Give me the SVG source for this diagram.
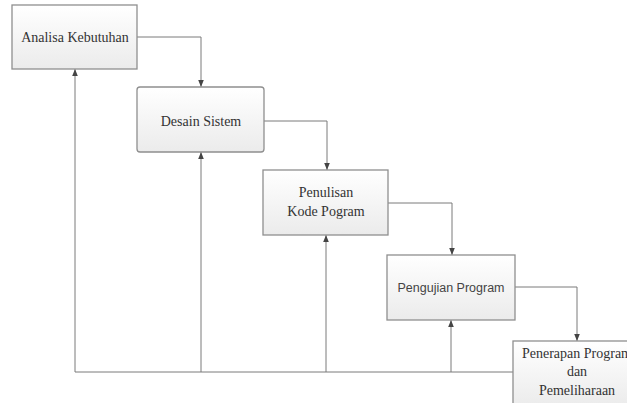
<svg xmlns="http://www.w3.org/2000/svg" width="627" height="403" viewBox="0 0 627 403">
<defs>
<linearGradient id="g" x1="0" y1="0" x2="0" y2="1">
<stop offset="0" stop-color="#ffffff"/>
<stop offset="1" stop-color="#ebebeb"/>
</linearGradient>
<marker id="ah" viewBox="0 0 10 10" refX="10" refY="5" markerWidth="7" markerHeight="7" orient="auto">
<path d="M0,1 L10,5 L0,9 z" fill="#444"/>
</marker>
</defs>
<style>
.box{fill:url(#g);stroke:#8f8f8f;stroke-width:1.3}
.t{font-family:"Liberation Serif","Times New Roman",serif;font-size:14px;fill:#333;text-anchor:middle}
.s{font-family:"Liberation Sans",Arial,sans-serif;font-size:12.5px;fill:#444;text-anchor:middle}
.c{fill:none;stroke:#7a7a7a;stroke-width:1}
</style>
<rect width="627" height="403" fill="#ffffff"/>
<g id="connectors">
<polyline class="c" points="137,37 201,37 201,87" marker-end="url(#ah)"/>
<polyline class="c" points="264,121 327,121 327,170" marker-end="url(#ah)"/>
<polyline class="c" points="388,203 452,203 452,255" marker-end="url(#ah)"/>
<polyline class="c" points="515,287 577,287 577,341" marker-end="url(#ah)"/>
<polyline class="c" points="513,372 75,372"/>
<line class="c" x1="75" y1="372" x2="75" y2="69" marker-end="url(#ah)"/>
<line class="c" x1="201" y1="372" x2="201" y2="152" marker-end="url(#ah)"/>
<line class="c" x1="326" y1="372" x2="326" y2="235" marker-end="url(#ah)"/>
<line class="c" x1="451" y1="372" x2="451" y2="320" marker-end="url(#ah)"/>
</g>
<g id="analisa">
<rect class="box" x="12" y="5" width="125" height="64"/>
<text class="t" x="75" y="42">Analisa Kebutuhan</text>
</g>
<g id="desain">
<rect class="box" x="137" y="87" width="127" height="65" rx="3"/>
<text class="t" x="201" y="126">Desain Sistem</text>
</g>
<g id="penulisan">
<rect class="box" x="263" y="170" width="125" height="65"/>
<text class="t" x="326" y="197">Penulisan</text>
<text class="t" x="326" y="216">Kode Pogram</text>
</g>
<g id="pengujian">
<rect class="box" x="387" y="255" width="128" height="65"/>
<text class="s" x="451" y="292">Pengujian Program</text>
</g>
<g id="penerapan">
<rect class="box" x="513" y="341" width="128" height="66"/>
<text class="t" x="577" y="358">Penerapan Program</text>
<text class="t" x="577" y="376">dan</text>
<text class="t" x="577" y="395">Pemeliharaan</text>
</g>
</svg>
